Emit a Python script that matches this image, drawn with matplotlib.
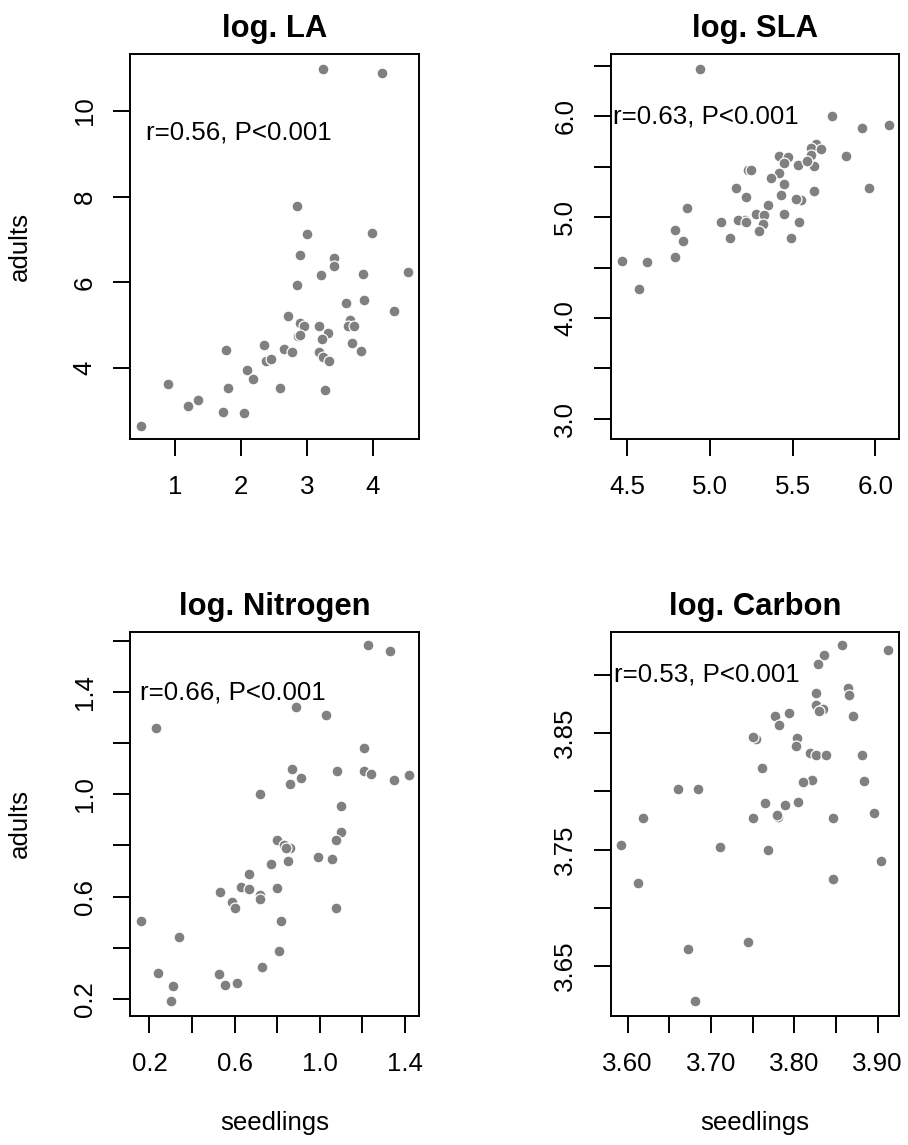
import matplotlib
matplotlib.use("Agg")
import matplotlib.pyplot as plt
import numpy as np

# ---- data (seedlings vs adults, log scale) ----
la_seedlings = [3.24, 4.14, 2.85, 3.00, 3.99, 2.89, 3.41, 3.41, 3.21, 3.85, 4.54, 2.85,
                3.59, 3.87, 4.32, 2.71, 2.89, 2.96, 3.19, 3.66, 3.63, 3.72, 3.32, 2.86,
                2.90, 3.23, 3.69, 3.83, 2.35, 2.66, 2.77, 1.77, 3.19, 3.24, 3.33, 2.38,
                2.45, 2.10, 2.18, 0.89, 1.81, 2.60, 3.27, 1.35, 1.20, 1.73, 2.04, 0.48]
la_adults = [10.97, 10.89, 7.77, 7.12, 7.15, 6.63, 6.56, 6.38, 6.17, 6.19, 6.24, 5.93,
             5.51, 5.59, 5.32, 5.21, 5.04, 4.99, 4.97, 5.11, 4.98, 4.98, 4.82, 4.74,
             4.78, 4.67, 4.57, 4.39, 4.54, 4.44, 4.37, 4.42, 4.36, 4.26, 4.16, 4.16,
             4.20, 3.95, 3.74, 3.63, 3.53, 3.52, 3.49, 3.24, 3.10, 2.96, 2.94, 2.65]

sla_seedlings = [4.94, 5.74, 5.92, 6.08, 5.64, 5.61, 5.67, 5.61, 5.82, 5.42, 5.47, 5.45,
                 5.53, 5.63, 5.59, 5.23, 5.25, 5.42, 5.37, 5.45, 5.16, 5.96, 5.63, 5.22,
                 5.43, 5.53, 5.55, 5.52, 5.35, 4.86, 5.28, 5.33, 5.45, 5.21, 5.17, 5.22,
                 5.07, 5.54, 5.32, 5.30, 5.12, 5.49, 4.79, 4.84, 4.79, 4.47, 4.62, 4.57]
sla_adults = [6.47, 6.00, 5.89, 5.92, 5.73, 5.69, 5.68, 5.62, 5.61, 5.61, 5.60, 5.54,
              5.52, 5.51, 5.56, 5.47, 5.47, 5.44, 5.39, 5.33, 5.29, 5.29, 5.26, 5.20,
              5.22, 5.17, 5.17, 5.18, 5.12, 5.09, 5.03, 5.02, 5.03, 4.97, 4.97, 4.95,
              4.95, 4.95, 4.93, 4.86, 4.79, 4.79, 4.87, 4.76, 4.61, 4.57, 4.56, 4.29]

n_seedlings = [1.225, 1.33, 0.89, 1.03, 0.23, 1.21, 0.87, 0.91, 0.86, 1.08, 1.21, 1.24,
               1.35, 1.42, 0.72, 1.10, 1.10, 1.075, 0.80, 0.83, 0.86, 0.84, 0.85, 0.99,
               1.056, 0.77, 0.67, 0.63, 0.67, 0.80, 0.53, 0.72, 0.72, 0.59, 0.60, 1.075,
               0.16, 0.82, 0.34, 0.81, 0.73, 0.24, 0.313, 0.302, 0.526, 0.557, 0.612]
n_adults = [1.584, 1.56, 1.34, 1.31, 1.26, 1.18, 1.10, 1.065, 1.04, 1.09, 1.09, 1.08,
            1.055, 1.076, 1.00, 0.953, 0.854, 0.82, 0.82, 0.80, 0.79, 0.79, 0.74, 0.754,
            0.746, 0.727, 0.687, 0.639, 0.63, 0.635, 0.617, 0.607, 0.59, 0.579, 0.555, 0.556,
            0.503, 0.503, 0.442, 0.386, 0.326, 0.302, 0.25, 0.19, 0.297, 0.255, 0.264]

c_seedlings = [3.857, 3.913, 3.836, 3.828, 3.826, 3.865, 3.866, 3.826, 3.835, 3.830, 3.777,
               3.794, 3.870, 3.782, 3.754, 3.803, 3.802, 3.819, 3.826, 3.838, 3.881, 3.761,
               3.821, 3.811, 3.884, 3.661, 3.685, 3.765, 3.804, 3.789, 3.781, 3.750, 3.847,
               3.896, 3.619, 3.592, 3.711, 3.769, 3.904, 3.612, 3.847, 3.744, 3.672, 3.681,
               3.750, 3.779]
c_adults = [3.926, 3.921, 3.917, 3.909, 3.884, 3.889, 3.883, 3.874, 3.871, 3.869, 3.865,
            3.867, 3.865, 3.857, 3.845, 3.846, 3.839, 3.833, 3.831, 3.831, 3.831, 3.820,
            3.810, 3.808, 3.809, 3.802, 3.802, 3.790, 3.791, 3.788, 3.778, 3.777, 3.777,
            3.781, 3.777, 3.754, 3.752, 3.750, 3.740, 3.721, 3.725, 3.671, 3.665, 3.620,
            3.847, 3.780]

titles = ["log. LA", "log. SLA", "log. Nitrogen", "log. Carbon"]
r_texts = ["r=0.56, P<0.001", "r=0.63, P<0.001", "r=0.66, P<0.001", "r=0.53, P<0.001"]

# tick positions and the labels R kept (it drops the ones that would overlap)
la_xticks, la_xlabels = [1, 2, 3, 4], ["1", "2", "3", "4"]
la_yticks, la_ylabels = [4, 6, 8, 10], ["4", "6", "8", "10"]
sla_xticks, sla_xlabels = [4.5, 5.0, 5.5, 6.0], ["4.5", "5.0", "5.5", "6.0"]
sla_yticks = [3.0, 3.5, 4.0, 4.5, 5.0, 5.5, 6.0, 6.5]
sla_ylabels = ["3.0", "", "4.0", "", "5.0", "", "6.0", ""]
n_xticks = [0.2, 0.4, 0.6, 0.8, 1.0, 1.2, 1.4]
n_xlabels = ["0.2", "", "0.6", "", "1.0", "", "1.4"]
n_yticks = [0.2, 0.4, 0.6, 0.8, 1.0, 1.2, 1.4, 1.6]
n_ylabels = ["0.2", "", "0.6", "", "1.0", "", "1.4", ""]
c_xticks = [3.60, 3.65, 3.70, 3.75, 3.80, 3.85, 3.90]
c_xlabels = ["3.60", "", "3.70", "", "3.80", "", "3.90"]
c_yticks = [3.65, 3.70, 3.75, 3.80, 3.85, 3.90]
c_ylabels = ["3.65", "", "3.75", "", "3.85", ""]

plt.rcParams['font.family'] = ['Liberation Sans', 'DejaVu Sans']

FS = 18.6  # axis text size


def draw_panel(ax, x, y, title, rtext, txt_xy, xlim, ylim, xt, xl, yt, yl,
               left_col, bottom_row):
    ax.scatter(x, y, s=62, c='#808080', edgecolors='white', linewidths=0.9, zorder=3)
    ax.set_xlim(xlim)
    ax.set_ylim(ylim)
    ax.set_xticks(xt, labels=xl)
    ax.set_yticks(yt, labels=yl)
    ax.tick_params(axis='both', direction='out', length=12, width=1.4,
                   labelsize=FS, color='black')
    ax.tick_params(axis='x', pad=14)
    ax.tick_params(axis='y', pad=12, labelrotation=90)
    for lab in ax.get_yticklabels():
        lab.set_verticalalignment('center')
    for sp in ax.spines.values():
        sp.set_linewidth(1.4)
    ax.set_title(title, fontsize=22.3, fontweight='bold', pad=12)
    ax.text(txt_xy[0], txt_xy[1], rtext, fontsize=FS, ha='left', va='center')
    if left_col:
        ax.set_ylabel("adults", fontsize=FS)
        ax.yaxis.set_label_coords(-0.34, 0.5)
    if bottom_row:
        ax.set_xlabel("seedlings", fontsize=FS)
        ax.xaxis.set_label_coords(0.5, -0.25)


def main():
    fig = plt.figure(figsize=(9.08, 11.45), dpi=100)
    W, H = 908.0, 1145.0

    def box(l, r, t, b):
        return [l / W, (H - b) / H, (r - l) / W, (b - t) / H]

    ax1 = fig.add_axes(box(130, 419, 54, 439))
    ax2 = fig.add_axes(box(610.6, 899.3, 54, 439))
    ax3 = fig.add_axes(box(130, 419, 631.7, 1015.5))
    ax4 = fig.add_axes(box(610.6, 899.3, 631.7, 1015.5))

    draw_panel(ax1, la_seedlings, la_adults, titles[0], r_texts[0], (0.56, 9.49),
               (0.317, 4.703), (2.34, 11.33), la_xticks, la_xlabels,
               la_yticks, la_ylabels, True, False)
    draw_panel(ax2, sla_seedlings, sla_adults, titles[1], r_texts[1], (4.415, 6.0),
               (4.40, 6.145), (2.80, 6.62), sla_xticks, sla_xlabels,
               sla_yticks, sla_ylabels, False, False)
    draw_panel(ax3, n_seedlings, n_adults, titles[2], r_texts[2], (0.155, 1.40),
               (0.109, 1.466), (0.135, 1.636), n_xticks, n_xlabels,
               n_yticks, n_ylabels, True, True)
    draw_panel(ax4, c_seedlings, c_adults, titles[3], r_texts[3], (3.5835, 3.90),
               (3.5796, 3.926), (3.6075, 3.937), c_xticks, c_xlabels,
               c_yticks, c_ylabels, False, True)

    fig.savefig("out.png", dpi=100)


if __name__ == "__main__":
    main()
